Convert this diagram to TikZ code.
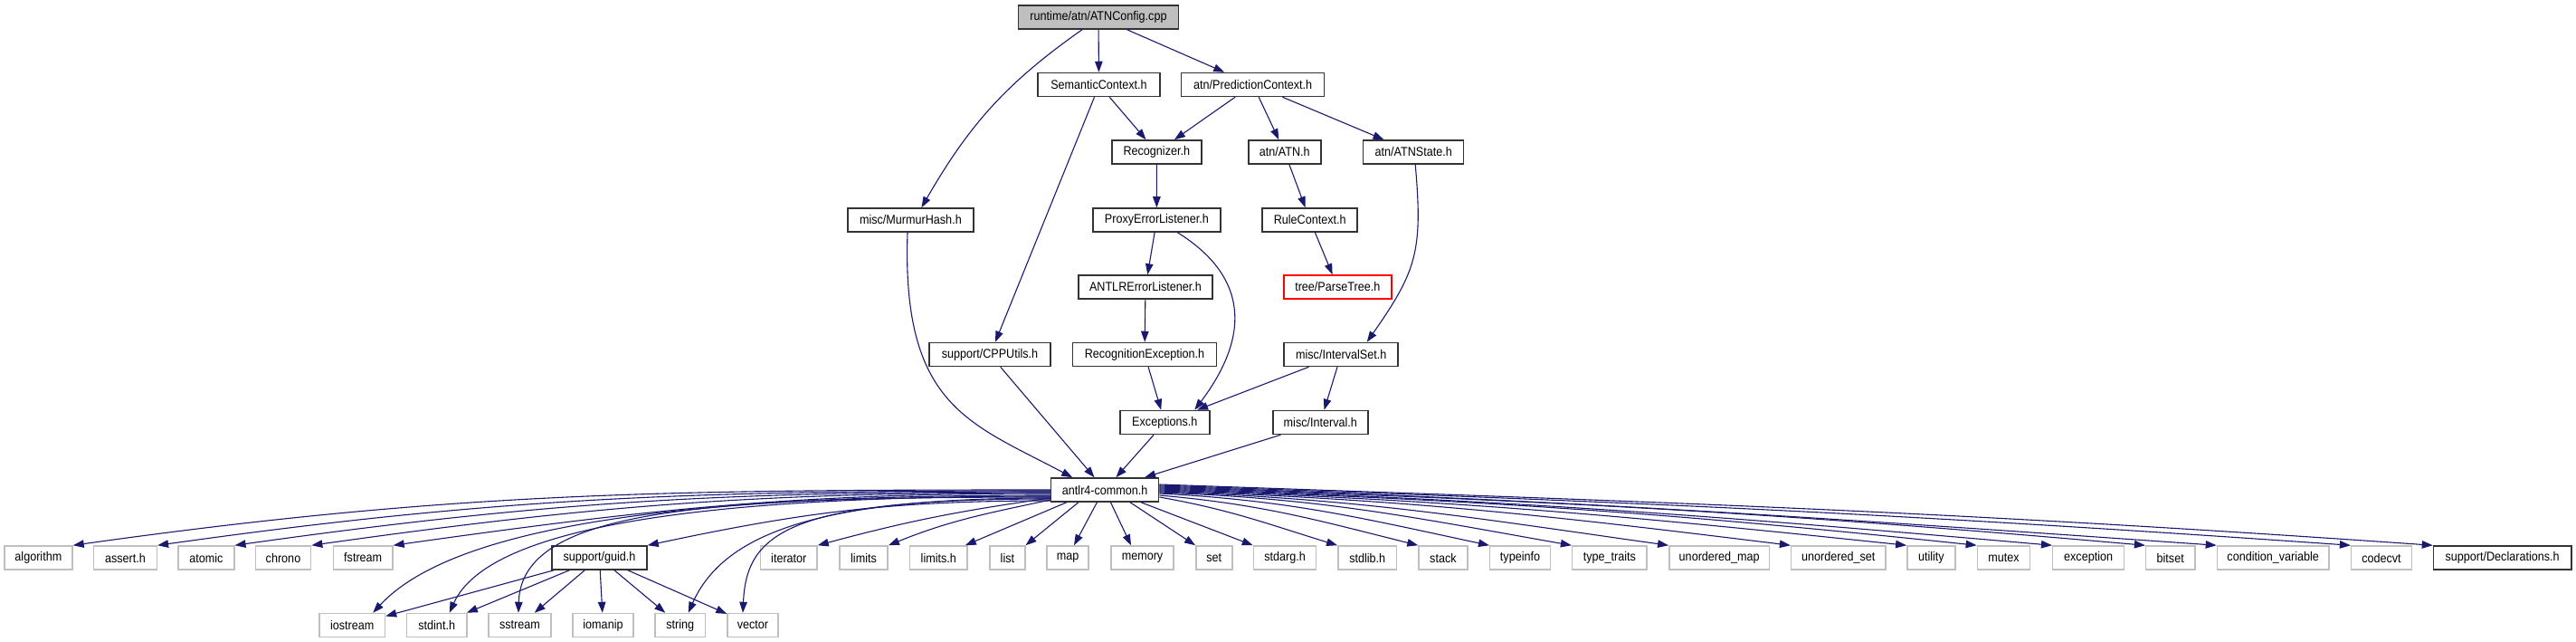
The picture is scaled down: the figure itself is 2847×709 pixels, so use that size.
\documentclass[tikz,border=0pt]{standalone}
\usepackage{fontspec}
\newfontfamily\dxfontfam{Liberation Sans}[FakeStretch=0.9]
\usetikzlibrary{arrows.meta}
\definecolor{mblue}{HTML}{191970}
\definecolor{grey75}{HTML}{BFBFBF}
\newcommand{\dxfont}{\dxfontfam\fontsize{14}{16}\selectfont}
\tikzset{
  docbox/.style={draw=black!80, line width=1.5pt, fill=white, minimum height=26pt, inner sep=0pt, font=\dxfont},
  sysbox/.style={docbox, draw=grey75},
  redbox/.style={docbox, draw=red},
  rootbox/.style={docbox, fill=grey75},
  e/.style={draw=mblue, line width=1.1pt, -{Triangle[length=12pt,width=8.5pt]}}
}
\begin{document}
\begin{tikzpicture}[x=1pt,y=1pt]
\useasboundingbox (0,0) rectangle (2847,709);
% upper part
\node[rootbox, minimum width=177] (root) at (1214,690) {runtime/atn/ATNConfig.cpp};
\node[docbox, minimum width=135] (sem) at (1214.5,615.5) {SemanticContext.h};
\node[docbox, minimum width=158] (pred) at (1384.7,615.5) {atn/PredictionContext.h};
\node[docbox, minimum width=99] (rec) at (1278.3,541) {Recognizer.h};
\node[docbox, minimum width=80] (atn) at (1419.8,541) {atn/ATN.h};
\node[docbox, minimum width=111] (atns) at (1562.2,541) {atn/ATNState.h};
\node[docbox, minimum width=139] (murmur) at (1006.4,466) {misc/MurmurHash.h};
\node[docbox, minimum width=141] (proxy) at (1278.4,466) {ProxyErrorListener.h};
\node[docbox, minimum width=105] (rule) at (1447.7,466) {RuleContext.h};
\node[docbox, minimum width=148] (antlrerr) at (1266,392) {ANTLRErrorListener.h};
\node[redbox, minimum width=119] (parse) at (1478.3,392) {tree/ParseTree.h};
\node[docbox, minimum width=134] (cpp) at (1094,317.5) {support/CPPUtils.h};
\node[docbox, minimum width=159] (recex) at (1265,317.5) {RecognitionException.h};
\node[docbox, minimum width=126] (ivset) at (1482.2,317.5) {misc/IntervalSet.h};
\node[docbox, minimum width=99] (exc) at (1287.3,242.5) {Exceptions.h};
\node[docbox, minimum width=105] (ival) at (1459.3,242.5) {misc/Interval.h};
\node[docbox, minimum width=119] (ac) at (1221.2,168) {antlr4-common.h};
% row 1
\node[sysbox, minimum width=75.2] (algorithm) at (42.4,93) {algorithm};
\node[sysbox, minimum width=69.7] (asserth) at (138.5,93) {assert.h};
\node[sysbox, minimum width=61.8] (atomic) at (227.9,93) {atomic};
\node[sysbox, minimum width=61.2] (chrono) at (313,93) {chrono};
\node[sysbox, minimum width=65.5] (fstream) at (401.2,93) {fstream};
\node[docbox, minimum width=105] (guid) at (662.5,93) {support/guid.h};
\node[sysbox, minimum width=62.4] (iterator) at (871.8,93) {iterator};
\node[sysbox, minimum width=53.3] (limits) at (954.5,93) {limits};
\node[sysbox, minimum width=63.5] (limitsh) at (1037.3,93) {limits.h};
\node[sysbox, minimum width=38.7] (list) at (1113.4,93) {list};
\node[sysbox, minimum width=46] (map) at (1180,93) {map};
\node[sysbox, minimum width=69] (memory) at (1262.5,93) {memory};
\node[sysbox, minimum width=40] (set) at (1341.8,93) {set};
\node[sysbox, minimum width=69] (stdargh) at (1420,93) {stdarg.h};
\node[sysbox, minimum width=64.8] (stdlibh) at (1511.2,93) {stdlib.h};
\node[sysbox, minimum width=53.8] (stack) at (1594.9,93) {stack};
\node[sysbox, minimum width=66.6] (typeinfo) at (1680,93) {typeinfo};
\node[sysbox, minimum width=82.4] (typetraits) at (1778.8,93) {type\_traits};
\node[sysbox, minimum width=110.9] (umap) at (1900.2,93) {unordered\_map};
\node[sysbox, minimum width=104.2] (uset) at (2031.7,93) {unordered\_set};
\node[sysbox, minimum width=53.2] (utility) at (2134.4,93) {utility};
\node[sysbox, minimum width=58.1] (mutex) at (2214.4,93) {mutex};
\node[sysbox, minimum width=78.8] (exception) at (2308.1,93) {exception};
\node[sysbox, minimum width=54.1] (bitset) at (2398.7,93) {bitset};
\node[sysbox, minimum width=123.6] (condvar) at (2512.2,93) {condition\_variable};
\node[sysbox, minimum width=66.8] (codecvt) at (2632,93) {codecvt};
\node[docbox, minimum width=152.3] (decl) at (2765.6,93) {support/Declarations.h};
% row 2
\node[sysbox, minimum width=72.5] (iostream) at (389.2,18.5) {iostream};
\node[sysbox, minimum width=66.1] (stdinth) at (482.7,18.5) {stdint.h};
\node[sysbox, minimum width=69] (sstream) at (574.5,18.5) {sstream};
\node[sysbox, minimum width=67] (iomanip) at (666.5,18.5) {iomanip};
\node[sysbox, minimum width=55.4] (string) at (751.7,18.5) {string};
\node[sysbox, minimum width=56] (vector) at (832,18.5) {vector};
% upper edges
\draw[e] ([xshift=-18]root.south) .. controls +(-85.2,-59.7) and +(52,90) .. ([xshift=12]murmur.north);
\draw[e] (root) -- (sem);
\draw[e] (root) -- (pred);
\draw[e] (sem) -- (rec);
\draw[e] ([xshift=-5]sem.south) -- ([xshift=6]cpp.north);
\draw[e] (pred) -- (rec);
\draw[e] (pred) -- (atn);
\draw[e] (pred) -- (atns);
\draw[e] (rec) -- (proxy);
\draw[e] (atn) -- (rule);
\draw[e] ([xshift=2]atns.south) .. controls +(8.4,-95.6) and +(55,78.6) .. ([xshift=28.5]ivset.north);
\draw[e] (proxy) -- (antlrerr);
\draw[e] ([xshift=23]proxy.south) .. controls +(82.3,-51.4) and +(58.4,77.5) .. ([xshift=33]exc.north);
\draw[e] (rule) -- (parse);
\draw[e] (antlrerr) -- (recex);
\draw[e] ([xshift=-3.4]murmur.south) .. controls +(-6.7,-192.3) and +(-113.3,60.2) .. ([xshift=-36]ac.north);
\draw[e] (cpp) -- (ac);
\draw[e] (recex) -- (exc);
\draw[e] (ivset) -- (exc);
\draw[e] (ivset) -- (ival);
\draw[e] (exc) -- (ac);
\draw[e] (ival) -- (ac);
% fan left
\draw[e] (ac.west) .. controls +(-424,0) and +(419.9,59) .. (algorithm.north east);
\draw[e] ([yshift=-1]ac.west) .. controls +(-387.7,0) and +(383.9,54) .. (asserth.north east);
\draw[e] ([yshift=-2]ac.west) .. controls +(-354.3,0) and +(350.9,49.3) .. (atomic.north east);
\draw[e] ([yshift=-3]ac.west) .. controls +(-321.1,0) and +(318,44.7) .. (chrono.north east);
\draw[e] ([yshift=-4]ac.west) .. controls +(-285.8,0) and +(283,39.8) .. (fstream.north east);
\draw[e] ([yshift=-12]ac.west) .. controls +(-176,0) and +(172.2,36.6) .. (guid.north east);
\draw[e] ([yshift=-6]ac.west) .. controls +(-340,0) and +(100,108) .. ([xshift=23]iostream.north);
\draw[e] ([yshift=-7]ac.west) .. controls +(-360,0) and +(45,100) .. ([xshift=14]stdinth.north);
\draw[e] ([yshift=-8]ac.west) .. controls +(-380,0) and +(3,115) .. ([xshift=-1.5]sstream.north);
\draw[e] ([yshift=-9]ac.west) .. controls +(-250,0) and +(40,90) .. ([xshift=9]string.north);
\draw[e] ([yshift=-10]ac.west) .. controls +(-290,0) and +(4,88) .. ([xshift=-11]vector.north);
\draw[e] ([yshift=-9]ac.west) .. controls +(-102.4,-14.4) and +(99.9,26.8) .. (iterator.north east);
\draw[e] ([yshift=-11]ac.west) .. controls +(-71.8,-15.3) and +(68.1,27.5) .. (limits.north east);
\draw[e] ([xshift=18]ac.south west) -- ([xshift=-3]limitsh.north east);
\draw[e] ([xshift=31]ac.south west) -- (list.north east);
\draw[e] ([xshift=51.5]ac.south west) -- ([xshift=7]map.north);
\draw[e] ([xshift=66.5]ac.south west) -- ([xshift=-12.5]memory.north);
\draw[e] ([xshift=88]ac.south west) -- (set.north west);
\draw[e] ([xshift=100]ac.south west) -- (stdargh.north west);
% fan right
\draw[e] ([yshift=-8]ac.east) .. controls +(79.2,-14) and +(-76.9,23.5) .. (stdlibh.north west);
\draw[e] ([yshift=-6]ac.east) .. controls +(114.2,-10) and +(-111.2,27.7) .. (stack.north west);
\draw[e] ([yshift=-4]ac.east) .. controls +(144.9,-7.6) and +(-141.9,30.2) .. (typeinfo.north west);
\draw[e] ([yshift=-3]ac.east) .. controls +(180.3,-6.3) and +(-177.7,31.3) .. (typetraits.north west);
\draw[e] ([yshift=-2]ac.east) .. controls +(221.9,-7.7) and +(-219.8,30.9) .. (umap.north west);
\draw[e] ([yshift=-1]ac.east) .. controls +(274.5,-9.6) and +(-272.7,33.5) .. (uset.north west);
\draw[e] (ac.east) .. controls +(324.5,-11.3) and +(-322.9,33.9) .. (utility.north west);
\draw[e] ([yshift=1]ac.east) .. controls +(354.8,-12.4) and +(-353.1,37.1) .. (mutex.north west);
\draw[e] ([yshift=2]ac.east) .. controls +(387.4,-13.5) and +(-386.1,33.8) .. (exception.north west);
\draw[e] ([yshift=3]ac.east) .. controls +(427.6,-14.9) and +(-426.3,37.3) .. (bitset.north west);
\draw[e] ([yshift=4]ac.east) .. controls +(458.4,-16) and +(-457.6,32) .. (condvar.north west);
\draw[e] ([yshift=5]ac.east) .. controls +(516.3,-18) and +(-515.3,36) .. (codecvt.north west);
\draw[e] ([yshift=6]ac.east) .. controls +(551.9,-19.3) and +(-550.9,38.5) .. (decl.north west);
% guid edges
\draw[e] (guid) -- (iostream);
\draw[e] (guid) -- (stdinth);
\draw[e] (guid) -- (sstream);
\draw[e] (guid) -- (iomanip);
\draw[e] (guid) -- (string);
\draw[e] (guid) -- (vector);
\end{tikzpicture}
\end{document}
